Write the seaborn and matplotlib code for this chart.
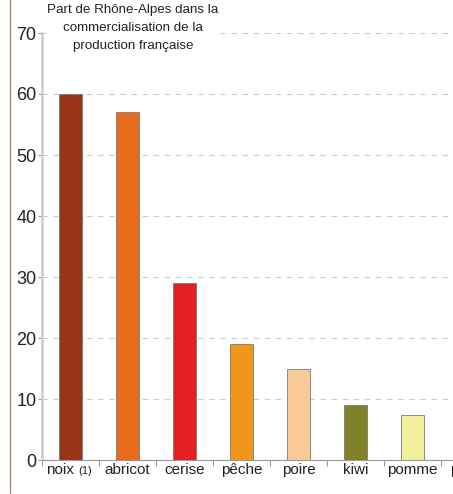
import numpy as np
import pandas as pd
import matplotlib
matplotlib.use('Agg')
import matplotlib.pyplot as plt
import matplotlib.lines as mlines
import seaborn as sns

# data
fruits = ['noix', 'abricot', 'cerise', 'pêche', 'poire', 'kiwi', 'pomme']
share = [60, 57, 29, 19, 15, 9, 7.3]
tick_labels = ['', 'abricot', 'cerise', 'pêche', 'poire', 'kiwi', 'pomme']
cut_label = 'prune'  # next category, cut off by the right edge
colors = ['#983516', '#E96B1E', '#E21F21', '#F2951B', '#F9C998', '#7E8127', '#F3EF9A']
title = 'Part de Rhône-Alpes dans la\ncommercialisation de la\nproduction française'

sns.set_style('white')
plt.rcParams['font.family'] = ['Liberation Sans', 'DejaVu Sans']

df = pd.DataFrame({'fruit': fruits, 'part': share})

fig = plt.figure(figsize=(4.53, 4.94), dpi=100)
ax = fig.add_axes([42/453, 34/494, 411/453, 427/494])

sns.barplot(data=df, x='fruit', y='part', hue='fruit', palette=colors,
            saturation=1, width=0.4, legend=False, ax=ax,
            edgecolor='#7a7a7a', linewidth=0.6, zorder=3)

ax.set_yticks(np.arange(0, 71, 10))
ax.tick_params(axis='y', labelsize=13, colors='#999999', labelcolor='#222222',
               length=3, width=0.8, pad=1, left=True)

# category boundaries as major ticks, labels on minor ticks
ax.set_xticks(np.arange(len(tick_labels) + 1) - 0.5)
ax.set_xticklabels([])
ax.set_xticks(np.arange(len(tick_labels)), minor=True)
ax.set_xticklabels(tick_labels, minor=True)
ax.tick_params(axis='x', which='major', length=4, width=0.8, colors='#999999',
               bottom=True)
ax.tick_params(axis='x', which='minor', length=0, labelsize=11,
               labelcolor='#222222', pad=2, bottom=True)
ax.set_ylim(0, 70)
ax.set_xlim(-0.5, 6.71)

ax.annotate('noix', xy=(0.06, 0), xycoords=('data', 'axes fraction'),
            xytext=(0, -2), textcoords='offset points', ha='right', va='top',
            fontsize=11, color='#222222')
ax.annotate('(1)', xy=(0.13, 0), xycoords=('data', 'axes fraction'),
            xytext=(0, -4), textcoords='offset points', ha='left', va='top',
            fontsize=8, color='#222222')
ax.annotate(cut_label, xy=(len(tick_labels), 0), xycoords=('data', 'axes fraction'),
            xytext=(0, -2), textcoords='offset points', ha='center', va='top',
            fontsize=11, color='#222222', annotation_clip=False)

ax.yaxis.grid(True, linestyle=(0, (5, 5)), color='#cccccc', linewidth=0.8, zorder=0)
ax.xaxis.grid(False)
ax.set_xlabel('')
ax.set_ylabel('')

for s in ['top', 'right']:
    ax.spines[s].set_visible(False)
ax.spines['left'].set_color('#cccccc')
ax.spines['left'].set_linewidth(1.8)
ax.spines['bottom'].set_color('#999999')
ax.spines['bottom'].set_linewidth(0.8)
ax.spines['bottom'].set_zorder(4)

fig.text(133/453, 1 - 28/494, title, ha='center', va='center', fontsize=9.6,
         color='#222222', linespacing=1.62,
         bbox=dict(facecolor='white', edgecolor='none', pad=1), zorder=5)

# brown frame line on the left edge
fig.add_artist(mlines.Line2D([10/453, 10/453], [1/494, 1], color='#b08a78',
                             linewidth=1.0, transform=fig.transFigure))

fig.savefig('out.png', dpi=100)
